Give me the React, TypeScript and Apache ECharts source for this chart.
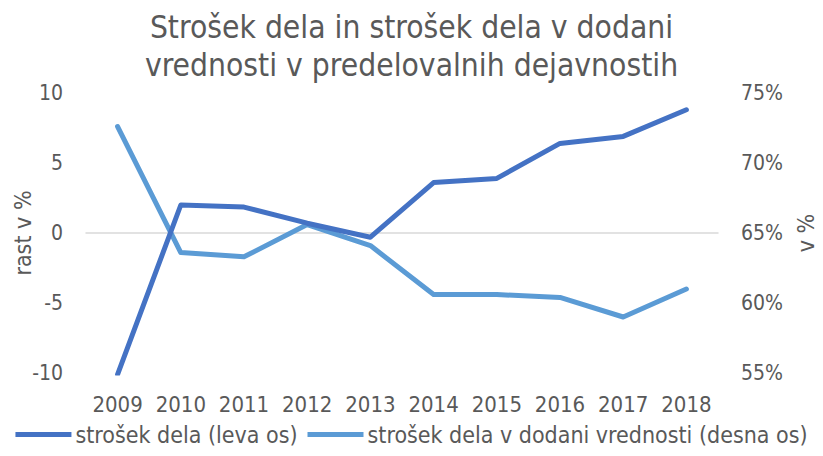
import React, { useEffect, useRef } from "react";
import * as echarts from "echarts";

const years = ["2009", "2010", "2011", "2012", "2013", "2014", "2015", "2016", "2017", "2018"];
const strosekDela = [-10.1, 2.0, 1.85, 0.7, -0.3, 3.6, 3.9, 6.4, 6.9, 8.8];
const strosekDelaDV = [72.6, 63.6, 63.3, 65.6, 64.1, 60.6, 60.6, 60.4, 59.0, 61.0];
const seriesNames = ["strošek dela (leva os)", "strošek dela v dodani vrednosti (desna os)"];
const titleText = "Strošek dela in strošek dela v dodani\nvrednosti v predelovalnih dejavnostih";

const FONT = "'DejaVu Sans Condensed', 'DejaVu Sans'";
const TXT = "#595959";

export default function App() {
  const ref = useRef<HTMLDivElement>(null);
  useEffect(() => {
    const chart = echarts.init(ref.current!, null, { renderer: "svg" });
    chart.setOption({
      animation: false,
      textStyle: { fontFamily: FONT },
      title: {
        text: titleText,
        left: "center",
        top: 3,
        textStyle: { fontFamily: FONT, fontSize: 31.5, fontWeight: "normal", color: TXT, lineHeight: 38 },
      },
      grid: { left: 86, right: 105, top: 93, bottom: 83, outerBoundsMode: "none", containLabel: false },
      legend: {
        bottom: 5,
        left: "center",
        icon: "rect",
        itemWidth: 56,
        itemHeight: 5,
        itemGap: 10,
        textStyle: { fontFamily: FONT, fontSize: 23, color: TXT, padding: [0, 0, 0, -1] },
        data: seriesNames,
      },
      xAxis: {
        type: "category",
        data: years,
        boundaryGap: true,
        axisLine: { show: true, onZero: true, lineStyle: { color: "#d9d9d9", width: 1.5 } },
        axisTick: { show: false },
        axisLabel: { color: TXT, fontSize: 22, margin: 20, fontFamily: FONT, interval: 0 },
      },
      yAxis: [
        {
          type: "value",
          min: -10,
          max: 10,
          interval: 5,
          position: "left",
          splitLine: { show: false },
          axisLine: { show: false },
          axisTick: { show: false },
          axisLabel: { color: TXT, fontSize: 21, margin: 23, fontFamily: FONT },
          name: "rast v %",
          nameLocation: "middle",
          nameRotate: 90,
          nameGap: 52,
          nameMoveOverlap: false,
          nameTextStyle: { color: TXT, fontSize: 23, fontFamily: FONT },
        },
        {
          type: "value",
          min: 55,
          max: 75,
          interval: 5,
          position: "right",
          splitLine: { show: false },
          axisLine: { show: false },
          axisTick: { show: false },
          axisLabel: { color: TXT, fontSize: 21, margin: 23, fontFamily: FONT, formatter: "{value}%" },
          name: "v %",
          nameLocation: "middle",
          nameRotate: 90,
          nameGap: 76,
          nameMoveOverlap: false,
          nameTextStyle: { color: TXT, fontSize: 23, fontFamily: FONT },
        },
      ],
      series: [
        {
          name: seriesNames[0],
          type: "line",
          yAxisIndex: 0,
          data: strosekDela,
          showSymbol: false,
          symbol: "none",
          lineStyle: { color: "#4472C4", width: 5, cap: "round", join: "round" },
          itemStyle: { color: "#4472C4" },
          z: 3,
        },
        {
          name: seriesNames[1],
          type: "line",
          yAxisIndex: 1,
          data: strosekDelaDV,
          showSymbol: false,
          symbol: "none",
          lineStyle: { color: "#5B9BD5", width: 5, cap: "round", join: "round" },
          itemStyle: { color: "#5B9BD5" },
          z: 2,
        },
      ],
    });
    return () => chart.dispose();
  }, []);
  return (
    <div
      ref={ref}
      style={{ position: "absolute", left: 0, top: 0, width: 823, height: 456, background: "#fff" }}
    />
  );
}
